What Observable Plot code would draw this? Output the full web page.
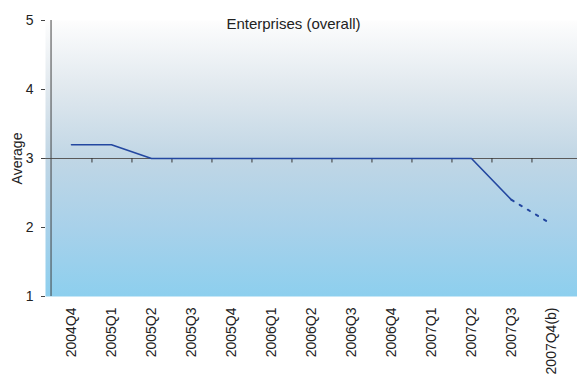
<!DOCTYPE html>
<html>
<head>
<meta charset="utf-8">
<script src="https://cdn.jsdelivr.net/npm/d3@7"></script>
<script src="https://cdn.jsdelivr.net/npm/@observablehq/plot@0.6"></script>
<style>
  html, body { margin: 0; padding: 0; background: #fff; }
  svg { font-family: "Liberation Sans", Arial, sans-serif; }
</style>
</head>
<body>
<div id="chart"></div>
<script>
const quarters = ["2004Q4","2005Q1","2005Q2","2005Q3","2005Q4","2006Q1","2006Q2","2006Q3","2006Q4","2007Q1","2007Q2","2007Q3","2007Q4(b)"];
const averages = [3.2, 3.2, 3.0, 3.0, 3.0, 3.0, 3.0, 3.0, 3.0, 3.0, 3.0, 2.4, 2.05];
const yTicks = [1, 2, 3, 4, 5];
const title = "Enterprises (overall)";
const yLabel = "Average";

const W = 577, H = 376, ML = 45, MR = 0, MT = 20, MB = 80;
const step = (W - ML - MR) / quarters.length;

const data = quarters.map((q, i) => ({q, v: averages[i]}));
const solid = data.slice(0, quarters.length - 1);
const dashed = data.slice(quarters.length - 2);

const plot = Plot.plot({
  width: W, height: H,
  marginLeft: ML, marginRight: MR, marginTop: MT, marginBottom: MB,
  style: {fontFamily: '"Liberation Sans", Arial, sans-serif', color: "#222", background: "transparent"},
  x: {type: "point", domain: quarters, padding: 0.5},
  y: {domain: [1, 5]},
  marks: [
    Plot.frame({fill: "url(#bgGrad)", stroke: "none"}),
    Plot.ruleY([3], {stroke: "#5a5a5a", strokeWidth: 1.2}),
    Plot.ruleX(quarters.slice(0, -1), {x: d => d, y1: 3, y2: 2.935, dx: step / 2, stroke: "#333", strokeWidth: 1}),
    Plot.ruleX([quarters[0]], {x: d => d, y1: 1, y2: 5, dx: -step / 2, stroke: "#444", strokeWidth: 1}),
    Plot.axisY({ticks: yTicks, tickFormat: d3.format("d"), tickSize: 4, tickPadding: 8, fontSize: 14, label: null, stroke: "#444"}),
    Plot.axisX({tickRotate: -90, tickSize: 0, tickPadding: 11, fontSize: 14, label: null}),
    Plot.lineY(solid, {x: "q", y: "v", stroke: "#2347a0", strokeWidth: 1.6}),
    Plot.lineY(dashed, {x: "q", y: "v", stroke: "#2347a0", strokeWidth: 2, strokeDasharray: "2.5 7"}),
    Plot.text([yLabel], {frameAnchor: "left", textAnchor: "middle", dx: -28, rotate: -90, fontSize: 14, fill: "#222"}),
    Plot.text([title], {frameAnchor: "top", dx: -18, dy: -2, fontSize: 15, fill: "#222"})
  ]
});

const ns = "http://www.w3.org/2000/svg";
const defs = document.createElementNS(ns, "defs");
defs.innerHTML = `<linearGradient id="bgGrad" x1="0" y1="0" x2="0" y2="1">
  <stop offset="0" stop-color="#fdfdfd"/>
  <stop offset="0.25" stop-color="#e0e8ee"/>
  <stop offset="0.5" stop-color="#c0d6e5"/>
  <stop offset="0.75" stop-color="#a8d1ea"/>
  <stop offset="1" stop-color="#8dcfee"/>
</linearGradient>`;
plot.insertBefore(defs, plot.firstChild);
document.getElementById("chart").appendChild(plot);
</script>
</body>
</html>
